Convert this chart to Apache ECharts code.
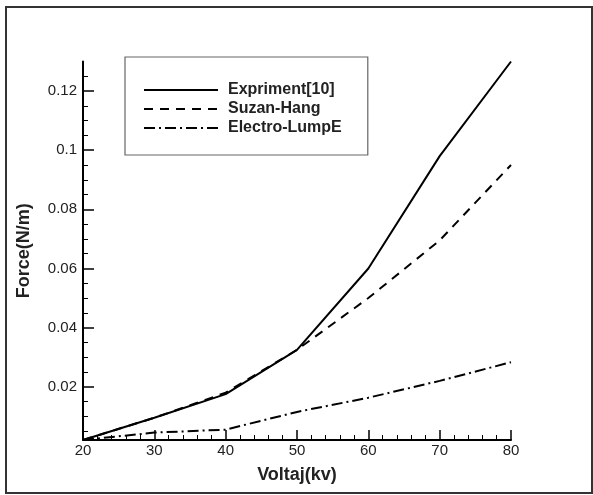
<!DOCTYPE html>
<html>
<head>
<meta charset="utf-8">
<script src="https://cdn.jsdelivr.net/npm/echarts@6/dist/echarts.min.js"></script>
<style>
html,body{margin:0;padding:0;background:#fff;}
#c{width:593px;height:495px;}
</style>
</head>
<body>
<div id="c"></div>
<script>
const voltage = [20, 30, 40, 50, 60, 70, 80];
const expriment = [0.002, 0.0095, 0.0175, 0.0325, 0.060, 0.098, 0.130];
const suzanHang = [0.002, 0.0095, 0.018, 0.0325, 0.050, 0.0695, 0.095];
const electroLump = [0.002, 0.0045, 0.0055, 0.0115, 0.0163, 0.022, 0.0283];
const yLabelValues = [0.02, 0.04, 0.06, 0.08, 0.1, 0.12];
const yMinorValues = [0.005, 0.01, 0.015, 0.025, 0.03, 0.035, 0.045, 0.05, 0.055, 0.065, 0.07, 0.075, 0.085, 0.09, 0.095, 0.105, 0.11, 0.115, 0.125];
const seriesNames = ['Expriment[10]', 'Suzan-Hang', 'Electro-LumpE'];

const chart = echarts.init(document.getElementById('c'), null, {renderer: 'canvas'});
const font = 'Liberation Sans, Arial, sans-serif';
function pairs(arr) { return voltage.map((v, i) => [v, arr[i]]); }

const yBase = {
  type: 'value', min: 0.002, max: 0.13, position: 'left', scale: true,
  splitLine: {show: false}
};

chart.setOption({
  animation: false,
  backgroundColor: '#fff',
  graphic: [{
    type: 'rect', shape: {x: 6, y: 7, width: 586, height: 486},
    style: {fill: 'none', stroke: '#333', lineWidth: 2}, silent: true, z: 0
  }],
  grid: {left: 83, right: 82, top: 61.5, bottom: 55, containLabel: false},
  legend: {
    orient: 'vertical', left: 125, top: 57,
    padding: [25, 26, 19, 18],
    itemGap: 3, itemWidth: 74, itemHeight: 14,
    borderColor: '#666', borderWidth: 1.2,
    data: seriesNames,
    itemStyle: {color: 'transparent', borderWidth: 0, opacity: 0},
    textStyle: {fontFamily: font, fontWeight: 'bold', fontSize: 16, lineHeight: 14, color: '#222', padding: [0, 0, 0, 5]}
  },
  xAxis: {
    type: 'value', min: 20, max: 80, interval: 10,
    name: 'Voltaj(kv)', nameLocation: 'middle', nameGap: 26,
    nameTextStyle: {fontFamily: font, fontWeight: 'bold', fontSize: 18, color: '#222'},
    axisLine: {lineStyle: {color: '#000', width: 2}},
    axisTick: {inside: true, length: 10, lineStyle: {color: '#000', width: 1.5}},
    minorTick: {show: true, splitNumber: 5, length: 5, lineStyle: {color: '#000', width: 1}},
    axisLabel: {fontFamily: font, fontSize: 15, color: '#222', margin: 3},
    splitLine: {show: false}
  },
  yAxis: [
    Object.assign({}, yBase, {
      name: 'Force(N/m)', nameLocation: 'middle', nameGap: 50, nameRotate: 90,
      nameTextStyle: {fontFamily: font, fontWeight: 'bold', fontSize: 18, color: '#222'},
      axisLine: {show: true, lineStyle: {color: '#000', width: 2}},
      axisTick: {show: true, inside: true, length: 11, customValues: yLabelValues, lineStyle: {color: '#000', width: 1.5}},
      axisLabel: {show: true, customValues: yLabelValues, fontFamily: font, fontSize: 15, color: '#222', margin: 6,
        formatter: v => String(+v.toFixed(3))}
    }),
    Object.assign({}, yBase, {
      axisLine: {show: false},
      axisTick: {show: true, inside: true, length: 5, customValues: yMinorValues, lineStyle: {color: '#000', width: 1}},
      axisLabel: {show: false}
    })
  ],
  series: [
    {name: seriesNames[0], type: 'line', data: pairs(expriment), symbol: 'none',
     lineStyle: {color: '#000', width: 2, type: 'solid'}, itemStyle: {color: '#000'}},
    {name: seriesNames[1], type: 'line', data: pairs(suzanHang), symbol: 'none',
     lineStyle: {color: '#000', width: 2, type: [9, 7]}, itemStyle: {color: '#000'}},
    {name: seriesNames[2], type: 'line', data: pairs(electroLump), symbol: 'none',
     lineStyle: {color: '#000', width: 2, type: [11, 4, 2, 4]}, itemStyle: {color: '#000'}}
  ]
});
</script>
</body>
</html>
